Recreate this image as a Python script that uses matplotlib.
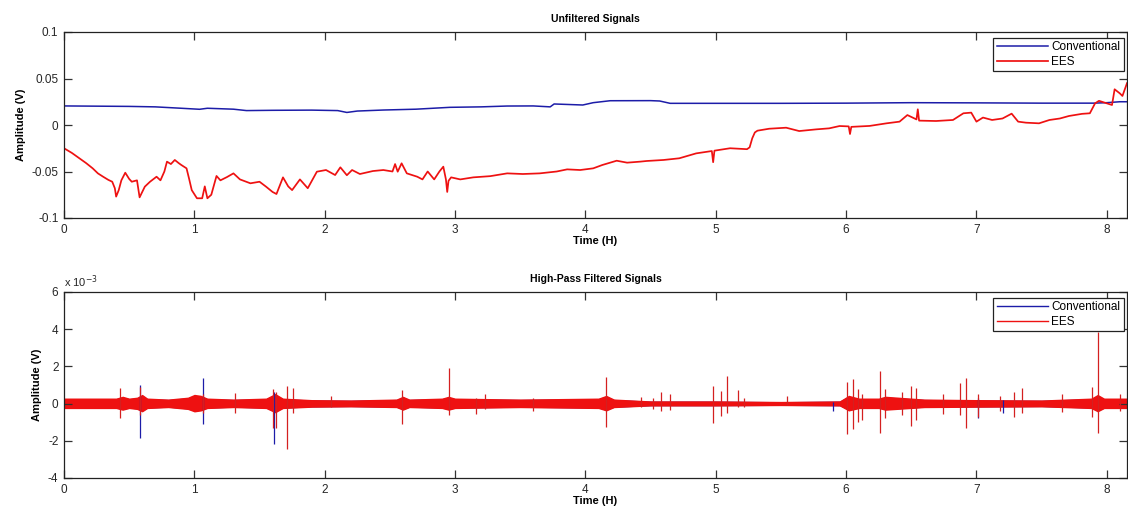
import numpy as np
import matplotlib
matplotlib.use("Agg")
import matplotlib.pyplot as plt
from matplotlib.ticker import FuncFormatter

plt.rcParams['font.family'] = ['Liberation Sans', 'DejaVu Sans']

# --- Unfiltered signals (V) ---
conv_t = [0, 0.3, 0.5, 0.7, 0.9, 1.04, 1.1, 1.3, 1.4, 1.6, 1.9, 2.1, 2.17, 2.25,
          2.45, 2.7, 2.96, 3.2, 3.4, 3.6, 3.73, 3.76, 3.98, 4.06, 4.19, 4.5, 4.57,
          4.65, 5.0, 5.5, 6.0, 6.5, 7.0, 7.5, 7.9, 8.0, 8.1, 8.155]
conv_v = [0.0205, 0.0202, 0.0200, 0.0195, 0.018, 0.0169, 0.018, 0.017, 0.0155,
          0.0158, 0.016, 0.0155, 0.0135, 0.015, 0.0161, 0.017, 0.019, 0.0195,
          0.0204, 0.0205, 0.0195, 0.0226, 0.0215, 0.024, 0.0261, 0.0262, 0.0258,
          0.0233, 0.0233, 0.0233, 0.0235, 0.024, 0.0238, 0.0235, 0.0235, 0.024,
          0.025, 0.025]

ees_t = [0.00, 0.06, 0.12, 0.17, 0.22, 0.26, 0.30, 0.34, 0.37, 0.39, 0.40, 0.42,
         0.44, 0.47, 0.50, 0.52, 0.56, 0.58, 0.60, 0.62, 0.66, 0.71, 0.74, 0.77,
         0.79, 0.82, 0.85, 0.88, 0.90, 0.94, 0.96, 0.98, 1.02, 1.06, 1.08, 1.10,
         1.13, 1.17, 1.20, 1.25, 1.30, 1.35, 1.43, 1.50, 1.55, 1.60, 1.63, 1.68,
         1.72, 1.75, 1.81, 1.87, 1.94, 2.01, 2.08, 2.12, 2.17, 2.21, 2.27, 2.37,
         2.45, 2.52, 2.54, 2.56, 2.59, 2.63, 2.71, 2.75, 2.79, 2.84, 2.88, 2.91,
         2.93, 2.94, 2.95, 2.97, 3.04, 3.14, 3.27, 3.40, 3.52, 3.65, 3.78, 3.86,
         3.96, 4.06, 4.13, 4.24, 4.32, 4.42, 4.47, 4.60, 4.72, 4.85, 4.97, 4.98,
         4.99, 5.11, 5.24, 5.26, 5.28, 5.30, 5.32, 5.41, 5.54, 5.64, 5.77, 5.87,
         5.95, 6.02, 6.03, 6.04, 6.18, 6.31, 6.41, 6.47, 6.51, 6.54, 6.55, 6.56,
         6.69, 6.82, 6.90, 6.96, 7.00, 7.05, 7.12, 7.20, 7.27, 7.32, 7.38, 7.48,
         7.56, 7.64, 7.71, 7.81, 7.87, 7.91, 7.94, 8.00, 8.04, 8.06, 8.10, 8.12,
         8.155]
ees_v = [-0.025, -0.030, -0.036, -0.041, -0.0466, -0.052, -0.0556, -0.059, -0.061,
         -0.068, -0.077, -0.070, -0.0595, -0.0513, -0.058, -0.061, -0.0595, -0.0778,
         -0.072, -0.0663, -0.061, -0.0556, -0.0595, -0.050, -0.0394, -0.042, -0.0376,
         -0.041, -0.043, -0.0466, -0.058, -0.070, -0.0788, -0.0788, -0.066, -0.0788,
         -0.075, -0.0548, -0.0595, -0.056, -0.052, -0.0585, -0.0627, -0.061, -0.0663,
         -0.072, -0.0742, -0.0563, -0.066, -0.070, -0.0585, -0.068, -0.0502, -0.0484,
         -0.0538, -0.0455, -0.054, -0.0484, -0.0527, -0.0495, -0.0484, -0.050, -0.042,
         -0.0502, -0.0412, -0.052, -0.0556, -0.0585, -0.050, -0.0585, -0.050, -0.0448,
         -0.0585, -0.072, -0.060, -0.0563, -0.0585, -0.0563, -0.055, -0.052, -0.0527,
         -0.052, -0.050, -0.0477, -0.0484, -0.0466, -0.043, -0.0384, -0.0405, -0.0394,
         -0.0387, -0.0376, -0.0358, -0.0305, -0.028, -0.040, -0.0276, -0.025, -0.026,
         -0.024, -0.0143, -0.008, -0.0061, -0.004, -0.0029, -0.0065, -0.0047, -0.0036,
         -0.0011, -0.0015, -0.0097, -0.002, -0.001, 0.0018, 0.0036, 0.0107, 0.008,
         0.006, 0.0169, 0.0047, 0.0043, 0.0054, 0.0126, 0.0133, 0.0036, 0.008, 0.0054,
         0.007, 0.0122, 0.0036, 0.0025, 0.0018, 0.0054, 0.007, 0.0097, 0.012, 0.0126,
         0.0233, 0.026, 0.0233, 0.0215, 0.0384, 0.034, 0.0312, 0.045]

# --- High-pass filtered signals (x 1e-3 V) ---
band_t = [0, 0.2, 0.4, 0.45, 0.5, 0.56, 0.6, 0.64, 0.8, 0.95, 1.0, 1.05, 1.1, 1.3,
          1.55, 1.62, 1.68, 1.9, 2.2, 2.55, 2.6, 2.65, 2.9, 2.95, 3.0, 3.5, 4.1,
          4.16, 4.22, 4.5, 5.0, 5.5, 5.95, 6.02, 6.1, 6.25, 6.3, 6.6, 7.0, 7.5,
          7.88, 7.93, 7.98, 8.155]
band_hi = [0.3, 0.3, 0.3, 0.4, 0.3, 0.35, 0.5, 0.3, 0.25, 0.35, 0.5, 0.45, 0.3,
           0.25, 0.3, 0.55, 0.3, 0.22, 0.2, 0.25, 0.4, 0.25, 0.3, 0.4, 0.3, 0.25,
           0.3, 0.45, 0.25, 0.15, 0.15, 0.12, 0.15, 0.45, 0.3, 0.3, 0.4, 0.25, 0.22,
           0.2, 0.3, 0.5, 0.3, 0.3]
band_lo = [-0.27, -0.27, -0.27, -0.36, -0.27, -0.32, -0.45, -0.27, -0.22, -0.32,
           -0.45, -0.4, -0.27, -0.22, -0.27, -0.5, -0.27, -0.2, -0.18, -0.22, -0.36,
           -0.22, -0.27, -0.36, -0.27, -0.22, -0.27, -0.4, -0.22, -0.13, -0.13,
           -0.11, -0.13, -0.4, -0.27, -0.27, -0.36, -0.22, -0.2, -0.18, -0.27, -0.45,
           -0.27, -0.27]

ees_spk_t = [0.43, 0.58, 1.07, 1.31, 1.60, 1.63, 1.71, 1.76, 2.05, 2.59, 2.95, 3.16,
             3.23, 3.6, 4.16, 4.43, 4.52, 4.58, 4.65, 4.98, 5.04, 5.09, 5.17, 5.22,
             5.55, 6.01, 6.05, 6.09, 6.12, 6.26, 6.30, 6.43, 6.50, 6.54, 6.74, 6.87,
             6.92, 7.01, 7.18, 7.29, 7.35, 7.66, 7.89, 7.93, 8.10]
ees_spk_hi = [0.82, 0.9, 0.5, 0.55, 0.8, 0.6, 0.95, 0.82, 0.4, 0.73, 1.9, 0.3, 0.5,
              0.3, 1.45, 0.36, 0.3, 0.64, 0.52, 0.95, 0.7, 1.48, 0.73, 0.3, 0.4, 1.18,
              1.3, 0.8, 0.5, 1.75, 0.8, 0.6, 0.95, 0.86, 0.5, 1.12, 1.36, 0.5, 0.4,
              0.6, 0.86, 0.5, 0.9, 3.87, 0.5]
ees_spk_lo = [-0.79, -0.6, -0.5, -0.5, -1.33, -1.33, -2.46, -0.5, -0.2, -1.1, -0.61,
              -0.55, -0.3, -0.4, -1.24, -0.2, -0.3, -0.4, -0.35, -1.02, -0.67, -0.52,
              -0.2, -0.2, -0.1, -1.63, -1.38, -0.97, -0.86, -1.6, -0.75, -0.6, -1.2,
              -0.9, -0.55, -0.6, -1.3, -0.7, -0.4, -0.7, -0.5, -0.45, -0.7, -1.56, -0.4]

conv_spk_t = [0.58, 1.07, 1.61, 5.90, 7.01, 7.20]
conv_spk_hi = [1.0, 1.36, 0.6, 0.1, 0.3, 0.2]
conv_spk_lo = [-1.87, -1.1, -2.17, -0.4, -0.75, -0.5]

BLUE = '#1c1ca8'
RED = '#ee1111'
SPIKE_RED = '#d42020'
TXT = '#262626'

fig = plt.figure(figsize=(11.28, 5.08), dpi=100)
W, H = 1128, 508
ax1 = fig.add_axes([64 / W, 1 - 218 / H, 1063 / W, 186 / H])
ax2 = fig.add_axes([64 / W, 1 - 478 / H, 1063 / W, 186 / H])

ax1.plot(conv_t, conv_v, color=BLUE, lw=1.1, label='Conventional')
ax1.plot(ees_t, ees_v, color=RED, lw=1.25, label='EES')
ax1.set_ylim(-0.1, 0.1)
ax1.set_yticks([-0.1, -0.05, 0, 0.05, 0.1])
ax1.set_yticklabels(['-0.1', '-0.05', '0', '0.05', '0.1'])
ax1.set_title('Unfiltered Signals', fontsize=7.5, fontweight='bold', pad=7)

e3 = 1e-3
ax2.fill_between(np.array(band_t), np.array(band_lo) * e3 * 0.9,
                 np.array(band_hi) * e3 * 0.9, color=BLUE, lw=0)
ax2.vlines(conv_spk_t, np.array(conv_spk_lo) * e3, np.array(conv_spk_hi) * e3,
           color=BLUE, lw=0.9)
ax2.fill_between(np.array(band_t), np.array(band_lo) * e3, np.array(band_hi) * e3,
                 color=RED, lw=0)
ax2.vlines(ees_spk_t, np.array(ees_spk_lo) * e3, np.array(ees_spk_hi) * e3,
           color=SPIKE_RED, lw=0.9)
ax2.plot([], [], color=BLUE, lw=1.0, label='Conventional')
ax2.plot([], [], color=RED, lw=1.0, label='EES')
ax2.set_ylim(-4e-3, 6e-3)
ax2.set_yticks(np.arange(-4, 7, 2) * e3)
ax2.yaxis.set_major_formatter(FuncFormatter(lambda v, p: f'{v * 1e3:g}'))
ax2.text(0, 1.012, r'x 10$^{-3}$', transform=ax2.transAxes, fontsize=8,
         color=TXT, ha='left', va='bottom')
ax2.set_title('High-Pass Filtered Signals', fontsize=7.5, fontweight='bold', pad=7)

for ax in (ax1, ax2):
    ax.set_xlim(0, 8.155)
    ax.set_xticks(range(0, 9))
    ax.tick_params(direction='in', top=True, right=True, length=6, width=0.9,
                   labelsize=8.5, labelcolor=TXT, color='#333333', pad=4)
    for s in ax.spines.values():
        s.set_linewidth(0.9)
        s.set_color('#222222')
    ax.set_xlabel('Time (H)', fontsize=8, fontweight='bold', labelpad=0)
    ax.set_ylabel('Amplitude (V)', fontsize=8, fontweight='bold', labelpad=4)
    leg = ax.legend(loc='upper right', bbox_to_anchor=(0.997, 0.968),
                    borderaxespad=0, fontsize=8.5, fancybox=False, framealpha=1,
                    handlelength=4.3, borderpad=0.3, labelspacing=0.2,
                    handletextpad=0.3)
    leg.get_frame().set_edgecolor('#222222')
    leg.get_frame().set_linewidth(0.9)

fig.savefig('out.png', dpi=100)
